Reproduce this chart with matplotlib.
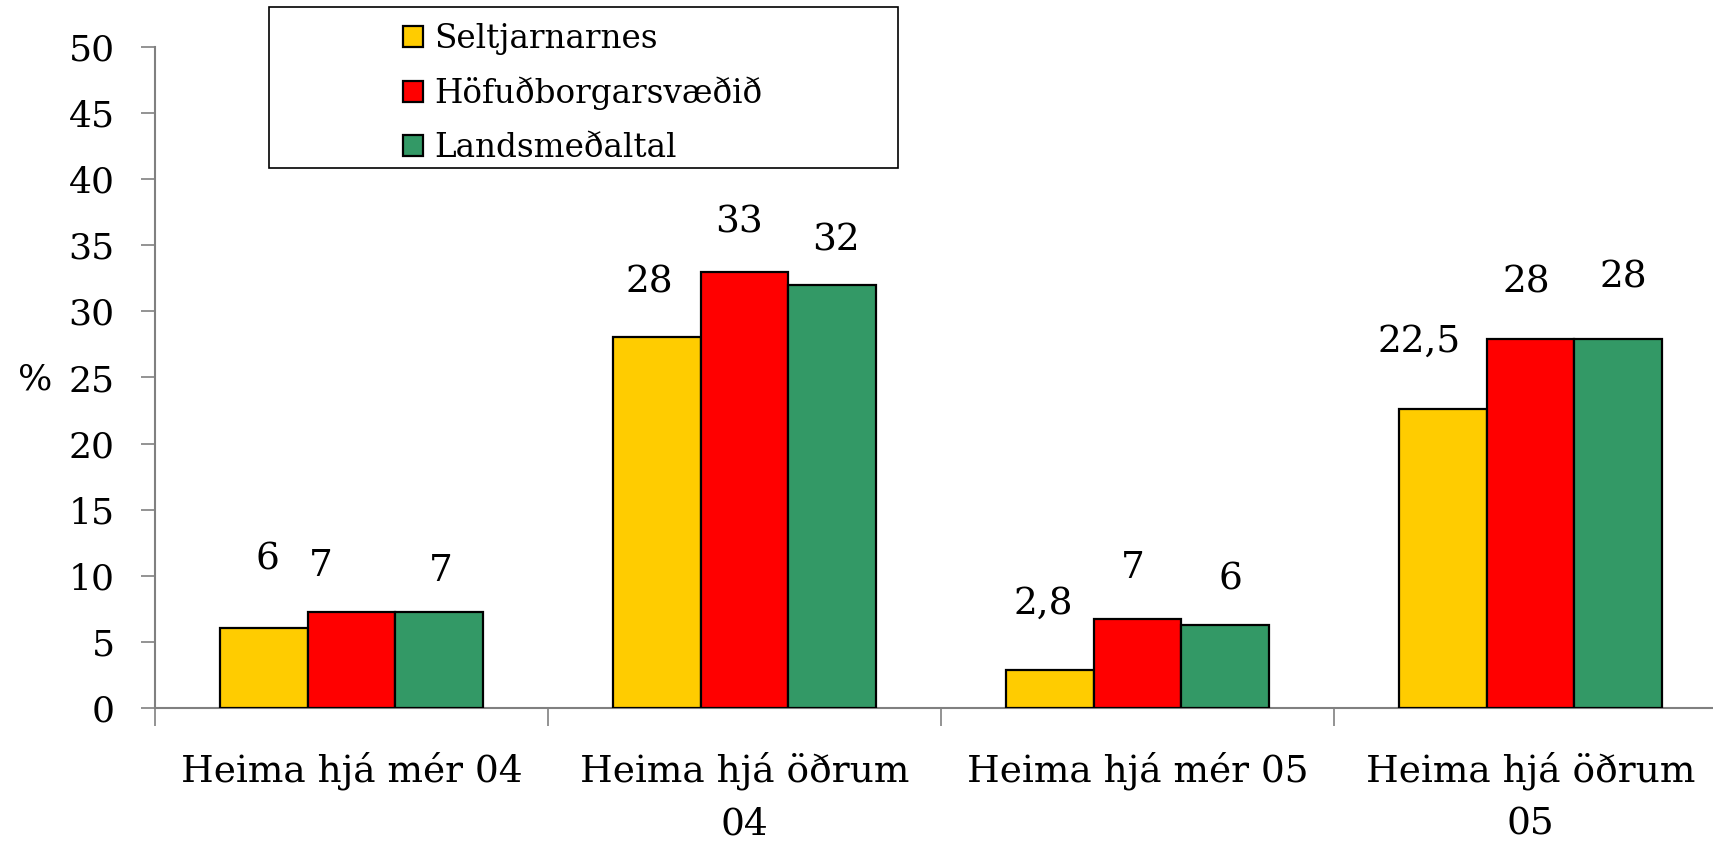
import matplotlib.pyplot as plt
import numpy as np
from matplotlib.patches import Rectangle

# ---------------------------------------- data ----------------------------------------
categories = ['Heima hjá mér 04', 'Heima hjá öðrum\n04', 'Heima hjá mér 05', 'Heima hjá öðrum\n05']
series_names = ['Seltjarnarnes', 'Höfuðborgarsvæðið', 'Landsmeðaltal']
seltjarnarnes = [6.05, 28.1, 2.85, 22.6]
hofudborgarsvaedid = [7.24, 33.0, 6.7, 27.9]
landsmedaltal = [7.24, 32.0, 6.3, 27.9]
label_seltjarnarnes = ['6', '28', '2,8', '22,5']
label_hofudborg = ['7', '33', '7', '28']
label_lands = ['7', '32', '6', '28']

# ---------------------------------------- layout ----------------------------------------
colors = ['#FFCC00', '#FF0000', '#339966']
bar_w = 0.2235
# where each value label sits, relative to bar centre (x) and bar top (y)
label_dx = [[0.010, -0.019, -0.017, -0.060],
             [-0.077, -0.014, -0.012, -0.010],
             [0.003, 0.008, 0.013, 0.012]]
label_dy = [[5.2, 4.1, 5.0, 5.1],
             [3.5, 3.7, 3.9, 4.3],
             [3.1, 3.4, 3.45, 4.66]]

font = 'DejaVu Serif'

fig = plt.figure(figsize=(17.13, 8.47), dpi=100)
ax = fig.add_axes([155 / 1713, 139 / 847, 1572 / 1713, 661 / 847])

x = np.arange(len(categories))
all_vals = [seltjarnarnes, hofudborgarsvaedid, landsmedaltal]
all_labels = [label_seltjarnarnes, label_hofudborg, label_lands]
for k in range(3):
    xs = x + (k - 1) * bar_w
    ax.bar(xs, all_vals[k], width=bar_w, color=colors[k], edgecolor='black',
           linewidth=1.6, label=series_names[k], zorder=3)
    for i in range(len(categories)):
        ax.text(xs[i] + label_dx[k][i], all_vals[k][i] + label_dy[k][i], all_labels[k][i],
                ha='center', va='center', fontsize=27, family=font)

ax.set_xlim(-0.5, 3.5)
ax.set_ylim(0, 50)
ax.set_yticks(np.arange(0, 51, 5))
ax.set_yticklabels([str(v) for v in range(0, 51, 5)], family=font, fontsize=26)

# category labels between the boundary ticks
ax.set_xticks(x)
ax.set_xticklabels(categories, family=font, fontsize=27, linespacing=1.6, va='top')
ax.tick_params(axis='x', which='major', length=0, pad=31)
ax.set_xticks(np.arange(-0.5, 3.6, 1), minor=True)
ax.tick_params(axis='x', which='minor', length=13, width=1.2, color='#808080')
ax.tick_params(axis='y', length=10, width=1.2, color='#808080', pad=19)

for s in ['top', 'right']:
    ax.spines[s].set_visible(False)
for s in ['left', 'bottom']:
    ax.spines[s].set_color('#808080')
    ax.spines[s].set_linewidth(1.5)

fig.text(35 / 1713, 1 - 379 / 847, '%', ha='center', va='center', fontsize=26, family=font)

# legend box
fig.patches.append(Rectangle((269 / 1713, 1 - 168 / 847), 629 / 1713, 161 / 847,
                             transform=fig.transFigure, fill=False, edgecolor='black', linewidth=1.2))
leg = fig.legend(loc='upper left', bbox_to_anchor=(387 / 1713, 1 - 7 / 847), frameon=False,
                 prop={'family': font, 'size': 23.5}, handlelength=0.6, handleheight=0.6,
                 handletextpad=0.34, labelspacing=0.66, borderpad=0)
for h in leg.legend_handles:
    h.set_linewidth(1.6)

plt.savefig('out.png', dpi=100)
